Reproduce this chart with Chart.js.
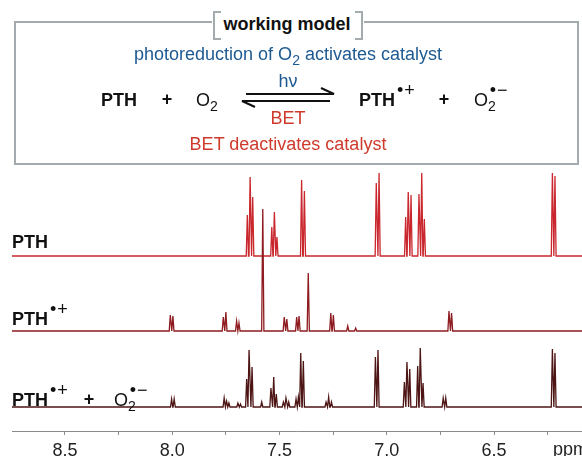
<!DOCTYPE html>
<html>
<head>
<meta charset="utf-8">
<script src="https://cdn.jsdelivr.net/npm/chart.js@4.4.0/dist/chart.umd.min.js"></script>
<style>
  body { margin: 0; background: #fff; font-family: "Liberation Sans", Arial, sans-serif; }
  #wrap { position: relative; width: 582px; height: 456px; overflow: hidden; }
  #nmr { position: absolute; left: 0; top: 0; }
  .t { position: absolute; white-space: nowrap; line-height: 1; font-size: 18px; color: #111; }
  .c { transform: translateX(-50%); }
  .b { font-weight: bold; }
  .blue { color: #1d5a92; font-size: 18px; }
  .red { color: #cf3a2c; font-size: 18px; }
  .sub { font-size: 14px; position: relative; top: 5px; }
  .sup { font-size: 18px; position: relative; top: -10px; font-weight: normal; margin-left: 2px; letter-spacing: 1px; }
  .box { position: absolute; left: 14px; top: 21px; width: 561px; height: 140px; border: 2px solid #a3abae; }
  .tag { position: absolute; left: 212px; top: 10px; width: 152px; height: 28px; background: #fff; }
  .br { position: absolute; top: 11px; width: 6px; height: 25px; border: 2px solid #a3abae; }
</style>
</head>
<body>
<div id="wrap">
  <canvas id="nmr" width="582" height="456"></canvas>

  <div class="box"></div>
  <div class="tag"></div>
  <div class="br" style="left:213px; border-right:none;"></div>
  <div class="br" style="left:355px; border-left:none;"></div>
  <div class="t b c" style="left:287px; top:15px;">working model</div>

  <div class="t blue c" style="left:288px; top:45px;">photoreduction of O<span class="sub">2</span> activates catalyst</div>
  <div class="t blue c" style="left:288px; top:72px;">hν</div>
  <div class="t red c" style="left:288px; top:109px;">BET</div>
  <div class="t red c" style="left:288px; top:135px;">BET deactivates catalyst</div>

  <div class="t b" style="left:101px; top:91px;">PTH</div>
  <div class="t b c" style="left:167px; top:90px;">+</div>
  <div class="t" style="left:196px; top:91px;">O<span class="sub">2</span></div>
  <svg style="position:absolute; left:0; top:0;" width="582" height="160">
    <path d="M246 94 H334 L321 88" fill="none" stroke="#111" stroke-width="2"/>
    <path d="M330 101 H242 L255 107" fill="none" stroke="#111" stroke-width="2"/>
  </svg>
  <div class="t b" style="left:359px; top:91px;">PTH<span class="sup">•+</span></div>
  <div class="t b c" style="left:444px; top:90px;">+</div>
  <div class="t" style="left:474px; top:91px;">O<span class="sub">2</span><span class="sup" style="margin-left:-6px;">•−</span></div>

  <div class="t b" style="left:12px; top:233px;">PTH</div>
  <div class="t b" style="left:12px; top:310px;">PTH<span class="sup">•+</span></div>
  <div class="t b" style="left:12px; top:391px;">PTH<span class="sup">•+</span></div>
  <div class="t b c" style="left:89px; top:390px;">+</div>
  <div class="t" style="left:114px; top:391px;">O<span class="sub">2</span><span class="sup" style="margin-left:-6px;">•−</span></div>
</div>

<script>
// chemical shift axis (ppm), drawn high to low
const xMin = 6.09;
const xMax = 8.747;
const tickValues = [8.5, 8.25, 8.0, 7.75, 7.5, 7.25, 7.0, 6.75, 6.5, 6.25];
const tickLabels = ["8.5", "", "8.0", "", "7.5", "", "7.0", "", "6.5", ""];

// peaks: [ppm, intensity]
const pthPeaks = [
  [7.650, 41], [7.637, 79], [7.625, 59],
  [7.536, 29], [7.524, 44], [7.512, 19],
  [7.397, 76], [7.384, 65],
  [7.049, 73], [7.036, 83],
  [6.912, 39], [6.900, 64], [6.887, 61],
  [6.850, 62], [6.837, 83], [6.825, 37],
  [6.228, 83], [6.216, 80]
];
const radicalPeaks = [
  [8.009, 16], [7.997, 15],
  [7.762, 14], [7.750, 19],
  [7.700, 10], [7.689, 8],
  [7.578, 122],
  [7.478, 14], [7.466, 12],
  [7.420, 14], [7.409, 15],
  [7.366, 58],
  [7.261, 18], [7.249, 16],
  [7.182, 5], [7.145, 3],
  [6.710, 20], [6.698, 18]
];
const mixturePeaks = [
  [8.003, 8], [7.991, 8],
  [7.758, 9], [7.747, 6], [7.736, 4],
  [7.694, 4], [7.682, 3],
  [7.653, 28], [7.642, 57], [7.628, 40],
  [7.583, 5],
  [7.540, 19], [7.527, 30], [7.515, 13],
  [7.482, 5], [7.470, 9], [7.457, 5],
  [7.423, 8], [7.412, 10], [7.401, 54], [7.389, 46],
  [7.283, 5], [7.271, 10], [7.258, 5],
  [7.053, 50], [7.041, 57],
  [6.918, 25], [6.906, 45], [6.893, 38],
  [6.856, 41], [6.844, 59], [6.831, 24],
  [6.737, 9], [6.725, 9],
  [6.228, 58], [6.216, 54]
];

// vertical stacking of the three traces
const pthOffset = 175;
const radicalOffset = 100;
const mixtureOffset = 24;
const halfWidth = 0.0052;

function trace(peaks, offset) {
  const pts = [{ x: xMin, y: offset }];
  peaks.slice().sort((a, b) => a[0] - b[0]).forEach(([p, h]) => {
    pts.push({ x: p - halfWidth, y: offset });
    pts.push({ x: p, y: offset + h });
    pts.push({ x: p + halfWidth, y: offset });
  });
  pts.push({ x: xMax, y: offset });
  return pts;
}

const ppmLabel = {
  id: "ppmLabel",
  afterDraw(chart) {
    const ctx = chart.ctx;
    ctx.save();
    ctx.font = '18px "Liberation Sans", Arial, sans-serif';
    ctx.fillStyle = "#222";
    ctx.textBaseline = "middle";
    ctx.fillText("ppm", 553, 450);
    ctx.restore();
  }
};

let ctx = document.getElementById("nmr").getContext("2d");
let nmrChart = new Chart(ctx, {
  type: "line",
  data: {
    datasets: [
      {
        label: "PTH•+",
        borderColor: "#8e1b1f",
        borderWidth: 1.3,
        data: trace(radicalPeaks, radicalOffset),
      },
      {
        label: "PTH",
        borderColor: "#c9272d",
        borderWidth: 1.3,
        data: trace(pthPeaks, pthOffset),
      },
      {
        label: "PTH•+ + O2•−",
        borderColor: "#4e1515",
        borderWidth: 1.3,
        data: trace(mixturePeaks, mixtureOffset),
      },
    ],
  },
  options: {
    responsive: false,
    animation: false,
    events: [],
    layout: { padding: { left: 12, right: 0, top: 170, bottom: 0 } },
    elements: { point: { radius: 0 }, line: { tension: 0 } },
    plugins: { legend: { display: false }, tooltip: { enabled: false } },
    scales: {
      x: {
        type: "linear",
        reverse: true,
        min: xMin,
        max: xMax,
        afterBuildTicks: (s) => { s.ticks = tickValues.map((v) => ({ value: v })); },
        afterFit: (s) => { s.height = 25; },
        ticks: {
          callback: (v, i) => tickLabels[i],
          autoSkip: false,
          maxRotation: 0,
          padding: 5,
          color: "#222",
          font: { family: '"Liberation Sans", Arial, sans-serif', size: 18 },
        },
        grid: { drawOnChartArea: false, tickLength: 4, color: "#8a8a8a" },
        border: { color: "#8a8a8a", width: 1 },
      },
      y: { display: false, min: 0, max: 261 },
    },
  },
  plugins: [ppmLabel],
});
</script>
</body>
</html>
